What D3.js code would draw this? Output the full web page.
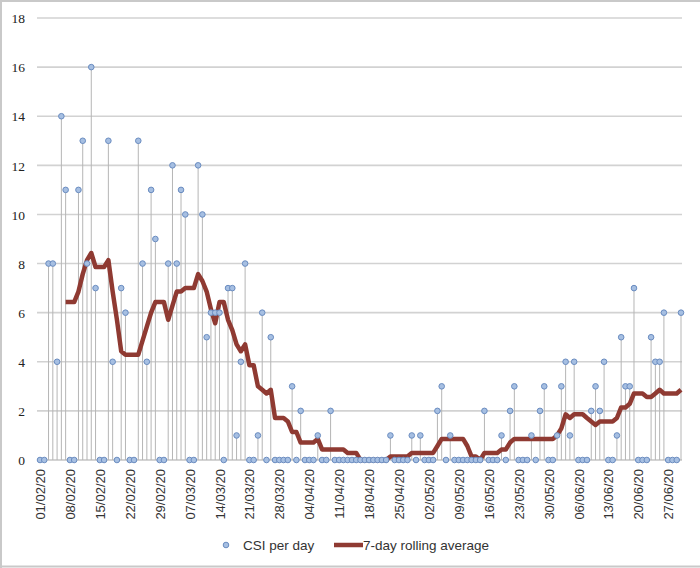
<!DOCTYPE html>
<html>
<head>
<meta charset="utf-8">
<script src="https://cdn.jsdelivr.net/npm/d3@7"></script>
<style>
  html, body { margin: 0; padding: 0; background: #fff; }
  svg { display: block; }
</style>
</head>
<body>
<svg id="chart" width="700" height="568"></svg>
<script>
// Daily CSI counts, 01/02/20 .. 30/06/20 (151 days)
const csiPerDay = [
  0,0,8,8,4,14,11,0,0,11,13,8,16,7,0,0,13,4,0,7,6,0,0,13,8,4,11,9,0,
  0,8,12,8,11,10,0,0,12,10,5,6,6,6,0,7,7,1,4,8,0,0,1,6,0,5,0,0,0,0,3,0,
  2,0,0,0,1,0,0,2,0,0,0,0,0,0,0,0,0,0,0,0,0,1,0,0,0,0,1,0,1,
  0,0,0,2,3,0,1,0,0,0,0,0,0,0,2,0,0,0,1,0,2,3,0,0,0,1,0,2,3,0,0,
  1,3,4,1,4,0,0,0,2,3,2,4,0,0,1,5,3,3,7,0,0,0,5,4,4,6,0,0,0,6
];
// 7-day rolling average (starts on day 7)
const rollingAvg = [
  null,null,null,null,null,null,
  6.43,6.43,6.43,6.86,7.57,8.14,8.43,7.86,7.86,7.86,8.14,6.86,5.71,4.43,4.29,4.29,4.29,4.29,4.86,5.43,6.00,6.43,6.43,
  6.43,5.71,6.29,6.86,6.86,7.00,7.00,7.00,7.57,7.29,6.86,6.14,5.57,6.43,6.43,5.71,5.29,4.71,4.43,4.71,3.86,3.86,3.00,2.86,2.71,2.86,1.71,1.71,1.71,1.57,1.14,1.14,
  0.71,0.71,0.71,0.71,0.86,0.43,0.43,0.43,0.43,0.43,0.43,0.29,0.29,0.29,0,0,0,0,0,0,0,0.14,0.14,0.14,0.14,0.14,0.29,0.29,0.29,
  0.29,0.29,0.29,0.57,0.86,0.86,0.86,0.86,0.86,0.86,0.57,0.14,0.14,0,0.29,0.29,0.29,0.29,0.43,0.43,0.71,0.86,0.86,0.86,0.86,0.86,0.86,0.86,0.86,0.86,0.86,
  1.00,1.29,1.86,1.71,1.86,1.86,1.86,1.71,1.57,1.43,1.57,1.57,1.57,1.57,1.71,2.14,2.14,2.29,2.71,2.71,2.71,2.57,2.57,2.71,2.86,2.71,2.71,2.71,2.71,2.86
];
const xTickLabels = ["01/02/20","08/02/20","15/02/20","22/02/20","29/02/20","07/03/20","14/03/20",
  "21/03/20","28/03/20","04/04/20","11/04/20","18/04/20","25/04/20","02/05/20","09/05/20",
  "16/05/20","23/05/20","30/05/20","06/06/20","13/06/20","20/06/20","27/06/20"];
const yTicks = [0,2,4,6,8,10,12,14,16,18];
const seriesNames = ["CSI per day", "7-day rolling average"];

const svg = d3.select("#chart");
const W = 700, H = 568;

// frame
svg.append("line").attr("x1",0).attr("x2",W).attr("y1",1).attr("y2",1).attr("stroke","#c9c9c9").attr("stroke-width",2);
svg.append("line").attr("x1",1).attr("x2",1).attr("y1",0).attr("y2",H).attr("stroke","#c9c9c9").attr("stroke-width",2);
svg.append("line").attr("x1",0).attr("x2",W).attr("y1",H-1.5).attr("y2",H-1.5).attr("stroke","#c9c9c9").attr("stroke-width",2);

const x = d3.scaleLinear().domain([0, csiPerDay.length - 1]).range([40, 681]);
const y = d3.scaleLinear().domain([0, 18]).range([460, 18]);

// gridlines
const gridG = svg.append("g");
gridG.selectAll("line").data(yTicks).join("line")
  .attr("x1", 37).attr("x2", 682)
  .attr("y1", d => y(d)).attr("y2", d => y(d))
  .attr("stroke", d => d === 0 ? "#a8a8a8" : "#d2d2d2")
  .attr("stroke-width", d => d === 0 ? 1.2 : 1.6);

// y axis labels
const yAxis = d3.axisLeft(y).tickValues(yTicks).tickSize(0).tickPadding(0);
const yG = svg.append("g").attr("transform", "translate(25,0)").call(yAxis);
yG.select(".domain").remove();
yG.selectAll("text")
  .attr("font-family", "'Liberation Serif', 'DejaVu Serif', serif")
  .attr("font-size", 13.5).attr("fill", "#222").attr("dy", "0.35em");

// x axis labels (every 7 days)
const tickIdx = xTickLabels.map((_, i) => i * 7);
const xAxis = d3.axisBottom(x).tickValues(tickIdx).tickSize(0).tickFormat((d, i) => xTickLabels[i]);
const xG = svg.append("g").attr("transform", "translate(0,469)").call(xAxis);
xG.select(".domain").remove();
xG.selectAll("text")
  .attr("font-family", "'Liberation Sans', Arial, sans-serif")
  .attr("font-size", 13).attr("fill", "#333")
  .attr("text-anchor", "end")
  .attr("transform", "rotate(-90)")
  .attr("x", 0).attr("y", 0).attr("dx", 0).attr("dy", "0.35em");

// drop lines
const idx = d3.range(csiPerDay.length);
svg.append("g").selectAll("line").data(idx.filter(i => csiPerDay[i] > 0)).join("line")
  .attr("x1", i => x(i)).attr("x2", i => x(i))
  .attr("y1", i => y(csiPerDay[i])).attr("y2", y(0))
  .attr("stroke", "#b5b5b5").attr("stroke-width", 1);

// rolling average line
const line = d3.line()
  .defined(d => d != null)
  .x((d, i) => x(i)).y(d => y(d));
svg.append("path").datum(rollingAvg)
  .attr("d", line)
  .attr("fill", "none").attr("stroke", "#8f3a32")
  .attr("stroke-width", 4.5).attr("stroke-linejoin", "round");

// points
svg.append("g").selectAll("circle").data(idx).join("circle")
  .attr("cx", i => x(i)).attr("cy", i => y(csiPerDay[i]))
  .attr("r", 2.8)
  .attr("fill", "#a6bfe2").attr("stroke", "#6a8cc0").attr("stroke-width", 1);

// legend
const lg = svg.append("g");
lg.append("circle").attr("cx", 226).attr("cy", 545).attr("r", 2.8)
  .attr("fill", "#a6bfe2").attr("stroke", "#6a8cc0").attr("stroke-width", 1);
lg.append("text").attr("x", 243).attr("y", 550)
  .attr("font-family", "'Liberation Sans', Arial, sans-serif").attr("font-size", 13.5).attr("fill", "#333")
  .text(seriesNames[0]);
lg.append("line").attr("x1", 334).attr("x2", 363).attr("y1", 545).attr("y2", 545)
  .attr("stroke", "#8f3a32").attr("stroke-width", 4.5);
lg.append("text").attr("x", 363).attr("y", 550)
  .attr("font-family", "'Liberation Sans', Arial, sans-serif").attr("font-size", 13.5).attr("fill", "#333")
  .text(seriesNames[1]);
</script>
</body>
</html>
